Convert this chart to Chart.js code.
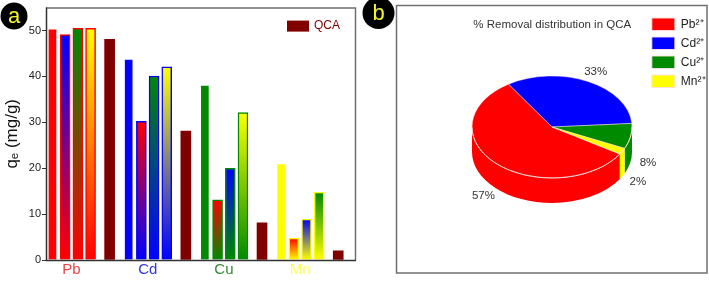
<!DOCTYPE html>
<html><head><meta charset="utf-8">
<script src="https://cdn.jsdelivr.net/npm/chart.js@4"></script>
<style>
html,body{margin:0;padding:0;background:#fff;width:709px;height:281px;overflow:hidden}
#chartA{position:absolute;left:0;top:0}
#chartB{position:absolute;left:360px;top:0}
</style></head><body>
<canvas id="chartA" width="360" height="281"></canvas>
<canvas id="chartB" width="349" height="281"></canvas>
<script>
// ---------- data ----------
const metals = ['Pb', 'Cd', 'Cu', 'Mn'];
// q_e (mg/g) of each metal: single, then with each of the other three metals
const qePb = [50.5, 49.1, 50.5, 50.5];
const qeCd = [43.9, 30.2, 40.1, 42.1];
const qeCu = [38.2, 13.1, 20.0, 32.1];
const qeMn = [21.1, 4.8, 8.9, 14.8];
const qeQCA = [48.1, 28.1, 8.1, 2.0];
const yTicks = [0, 10, 20, 30, 40, 50];
const ionLabels = ['Pb²⁺', 'Cd²⁺', 'Cu²⁺', 'Mn²⁺'];
const removalPct = [57, 33, 8, 2];

// ---------- styles ----------
const metalColors = ['#ff0000', '#0000ff', '#008a00', '#ffff00'];
const metalTextColors = ['#e84646', '#3636d6', '#348a34', '#ffff5a'];
const qcaColor = '#800000';
Chart.defaults.font.family = "'Liberation Sans', Arial, sans-serif";

const groups = [qePb, qeCd, qeCu, qeMn];
const SLOTS = 6, QCA_POS = 4.5;
const mixData = groups.flatMap((vals, g) => vals.map((v, j) => ({x: g * SLOTS + j, y: v})));
const qcaData = qeQCA.map((v, g) => ({x: g * SLOTS + QCA_POS, y: v}));

function barFill(ctx) {
  if (ctx.type !== 'data') return metalColors[0];
  const g = Math.floor(ctx.dataIndex / 4), j = ctx.dataIndex % 4;
  const base = metalColors[g];
  if (j === 0) return base;
  const other = metalColors.filter((_, k) => k !== g)[j - 1];
  const chart = ctx.chart;
  if (!chart.chartArea || !chart.scales.y) return base;
  const y0 = chart.scales.y.getPixelForValue(0);
  const y1 = chart.scales.y.getPixelForValue(ctx.raw.y);
  const gr = chart.ctx.createLinearGradient(0, y1, 0, y0);
  gr.addColorStop(0, other);
  gr.addColorStop(1, base);
  return gr;
}
function barBorder(ctx) {
  if (ctx.type !== 'data') return 'rgba(0,0,0,0)';
  const g = Math.floor(ctx.dataIndex / 4), j = ctx.dataIndex % 4;
  return j === 0 ? 'rgba(0,0,0,0)' : metalColors[g];
}

const badgePlugin = {
  id: 'badge',
  afterDraw(chart, args, o) {
    const c = chart.ctx;
    c.save();
    c.beginPath(); c.arc(o.x, o.y, o.r, 0, Math.PI * 2); c.fillStyle = '#000'; c.fill();
    c.fillStyle = '#f5f52a'; c.font = "22px 'Liberation Sans', Arial, sans-serif";
    c.textAlign = 'center'; c.textBaseline = 'middle';
    c.fillText(o.letter, o.x, o.y + 1);
    c.restore();
  }
};

const frameA = {
  id: 'frameA',
  afterDatasetsDraw(chart) {
    const a = chart.chartArea, c = chart.ctx;
    c.save();
    c.lineWidth = 1.5; c.strokeStyle = '#707070';
    c.beginPath(); c.moveTo(a.left, a.top + 0.5); c.lineTo(a.right - 0.5, a.top + 0.5); c.lineTo(a.right - 0.5, a.bottom); c.stroke();
    c.strokeStyle = '#333';
    c.beginPath(); c.moveTo(a.left + 0.5, a.top); c.lineTo(a.left + 0.5, a.bottom + 0.5); c.lineTo(a.right, a.bottom + 0.5); c.stroke();
    // legend inside plot
    const ds = chart.data.datasets[1];
    c.fillStyle = ds.backgroundColor;
    c.fillRect(a.right - 69, a.top + 13, 22, 11);
    c.fillStyle = '#7a0000'; c.font = "12px 'Liberation Sans', Arial, sans-serif";
    c.textBaseline = 'middle'; c.textAlign = 'left';
    c.fillText(ds.label, a.right - 42, a.top + 18.5);
    c.restore();
  }
};

new Chart(document.getElementById('chartA'), {
  type: 'bar',
  data: {
    datasets: [
      {label: 'Binary', data: mixData, backgroundColor: barFill, borderColor: barBorder, borderWidth: 1.5, borderSkipped: 'bottom'},
      {label: 'QCA', data: qcaData, backgroundColor: qcaColor, borderWidth: 0}
    ]
  },
  options: {
    responsive: false, animation: false,
    datasets: {bar: {grouped: false, barThickness: 10}},
    layout: {padding: {top: 6, right: 4, left: 0, bottom: 0}},
    plugins: {legend: {display: false}, tooltip: {enabled: false},
      badge: {x: 14, y: 16, r: 13.5, letter: 'a'}},
    scales: {
      x: {
        type: 'linear', min: -0.51, max: 23.9, offset: false,
        afterBuildTicks: s => { s.ticks = metals.map((m, g) => ({value: g * SLOTS + 1.5})); },
        afterFit: s => { s.height = 21; },
        ticks: {callback: (v, i) => metals[i], color: c => metalTextColors[c.index], font: {size: 15}, padding: 1, autoSkip: false, maxRotation: 0},
        grid: {display: false, drawTicks: false}, border: {display: false}
      },
      y: {
        min: 0, max: 55,
        afterBuildTicks: s => { s.ticks = yTicks.map(v => ({value: v})); },
        afterFit: s => { s.width = 46; },
        ticks: {color: '#222', font: {size: 11}, padding: 1},
        grid: {drawOnChartArea: false, drawTicks: true, tickLength: 4, color: '#333'},
        border: {display: false},
        title: {display: true, text: 'qₑ (mg/g)', color: '#111', font: {size: 17}, padding: {top: 2, bottom: 0}}
      }
    }
  },
  plugins: [frameA, badgePlugin]
});

// ---------- pie (panel b) ----------
const pie3d = {
  id: 'pie3d',
  beforeDraw(chart) {
    const c = chart.ctx;
    c.save(); c.lineWidth = 1.5; c.strokeStyle = '#707070';
    c.strokeRect(36.5, 5.5, 310.5, 267.5); c.restore();
  },
  beforeDatasetsDraw(chart, args, o) {
    const c = chart.ctx, arcs = chart.getDatasetMeta(0).data;
    const {cx, cy, rx, ry, depth} = o;
    const TAU = Math.PI * 2;
    c.save();
    arcs.forEach(arc => {
      let s = arc.startAngle, e = arc.endAngle;
      const k = Math.floor(s / TAU); s -= k * TAU; e -= k * TAU;
      [[0, Math.PI], [TAU, TAU + Math.PI]].forEach(([lo, hi]) => {
        const a1 = Math.max(s, lo), a2 = Math.min(e, hi);
        if (a2 > a1) {
          c.beginPath();
          c.ellipse(cx, cy, rx, ry, 0, a1, a2, false);
          c.ellipse(cx, cy + depth, rx, ry, 0, a2, a1, true);
          c.closePath();
          c.fillStyle = arc.options.backgroundColor; c.fill();
        }
      });
    });
    arcs.forEach(arc => {
      c.save();
      c.translate(cx, cy); c.scale(rx / arc.outerRadius, ry / arc.outerRadius); c.translate(-arc.x, -arc.y);
      arc.draw(c);
      c.restore();
    });
    c.beginPath(); c.ellipse(cx, cy, rx, ry, 0, 0, Math.PI); c.strokeStyle = 'rgba(255,215,215,0.9)'; c.lineWidth = 1; c.stroke();
    // percentage labels
    c.fillStyle = '#333'; c.font = "11.5px 'Liberation Sans', Arial, sans-serif";
    c.textAlign = 'center'; c.textBaseline = 'middle';
    arcs.forEach((arc, i) => {
      const m = (arc.startAngle + arc.endAngle) / 2;
      const sn = Math.sin(m);
      const x = cx + 1.22 * rx * Math.cos(m);
      const y = cy + 1.22 * ry * sn + (sn > 0 ? depth : 0);
      c.fillText(chart.data.datasets[0].data[i] + '%', x, y);
    });
    c.restore();
    return false;
  }
};

new Chart(document.getElementById('chartB'), {
  type: 'pie',
  data: {labels: ionLabels, datasets: [{data: removalPct, backgroundColor: metalColors, borderColor: 'rgba(255,225,225,0.9)', borderWidth: 1}]},
  options: {
    responsive: false, animation: false, rotation: 122,
    layout: {padding: {left: 29, right: -6.5, top: 11.5, bottom: 0}},
    plugins: {
      tooltip: {enabled: false},
      title: {display: true, text: '% Removal distribution in QCA', color: '#333', font: {size: 11.5, weight: 'normal'}, padding: {top: 6.5, bottom: 6}},
      legend: {position: 'right', align: 'start', labels: {boxWidth: 23, boxHeight: 12.5, padding: 6.5, color: '#222', font: {size: 12}}},
      pie3d: {cx: 192, cy: 127, rx: 80, ry: 51, depth: 25},
      badge: {x: 18.5, y: 13, r: 16, letter: 'b'}
    }
  },
  plugins: [pie3d, badgePlugin]
});
</script>
</body></html>
